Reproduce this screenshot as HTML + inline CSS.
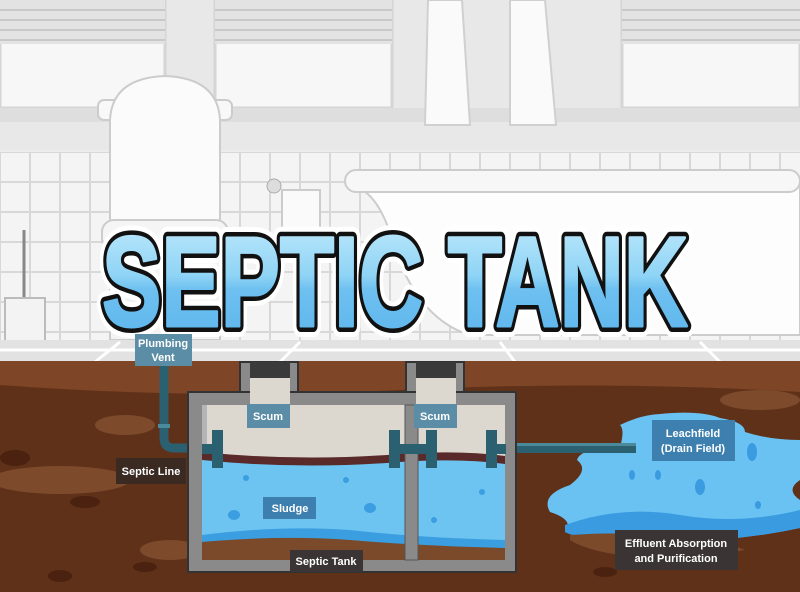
<!DOCTYPE html>
<html><head><meta charset="utf-8"><style>html,body{margin:0;padding:0;background:#eee}svg{display:block}text{font-family:"Liberation Sans",sans-serif;font-weight:bold}</style></head><body>
<svg width="800" height="592" viewBox="0 0 800 592" xmlns="http://www.w3.org/2000/svg">
<defs>
<linearGradient id="tg" x1="0" y1="0" x2="0" y2="1"><stop offset="0" stop-color="#c6ecfc"/><stop offset="0.45" stop-color="#8fd4f6"/><stop offset="0.55" stop-color="#6ec0f0"/><stop offset="1" stop-color="#5ab4ec"/></linearGradient>
<pattern id="tiles" width="30" height="30" patternUnits="userSpaceOnUse" x="0" y="152"><rect width="30" height="30" fill="#f4f4f4"/><rect x="0" y="0" width="30" height="30" fill="none" stroke="#d8d8d8" stroke-width="2"/></pattern>
</defs>
<rect width="800" height="592" fill="#ececec"/>
<rect x="0" y="0" width="800" height="150" fill="#e8e8e8"/>
<g fill="#f7f7f7" stroke="#d5d5d5" stroke-width="3">
<rect x="0" y="0" width="165" height="108"/><rect x="215" y="0" width="177" height="108"/><rect x="622" y="0" width="178" height="108"/>
</g>
<g fill="#e3e3e3"><rect x="0" y="0" width="165" height="44"/><rect x="215" y="0" width="177" height="44"/><rect x="622" y="0" width="178" height="44"/></g>
<g stroke="#c8c8c8" stroke-width="2">
<line x1="0" y1="10" x2="165" y2="10"/><line x1="0" y1="20" x2="165" y2="20"/><line x1="0" y1="30" x2="165" y2="30"/><line x1="0" y1="40" x2="165" y2="40"/>
<line x1="215" y1="10" x2="392" y2="10"/><line x1="215" y1="20" x2="392" y2="20"/><line x1="215" y1="30" x2="392" y2="30"/><line x1="215" y1="40" x2="392" y2="40"/>
<line x1="622" y1="10" x2="800" y2="10"/><line x1="622" y1="20" x2="800" y2="20"/><line x1="622" y1="30" x2="800" y2="30"/><line x1="622" y1="40" x2="800" y2="40"/>
</g>
<rect x="0" y="108" width="800" height="14" fill="#dedede"/>
<path d="M428 0 L462 0 L470 125 L425 125 Z" fill="#fafafa" stroke="#d0d0d0" stroke-width="2"/>
<path d="M510 0 L545 0 L556 125 L510 125 Z" fill="#fafafa" stroke="#d0d0d0" stroke-width="2"/>
<rect x="0" y="152" width="800" height="190" fill="url(#tiles)"/>
<rect x="98" y="100" width="134" height="20" rx="6" fill="#f8f8f8" stroke="#ccc" stroke-width="2"/>
<path d="M110 120 Q112 78 165 76 Q218 78 220 120 L220 225 L110 225 Z" fill="#fbfbfb" stroke="#ccc" stroke-width="2"/>
<rect x="102" y="220" width="126" height="30" rx="12" fill="#f5f5f5" stroke="#ccc" stroke-width="2"/>
<rect x="110" y="250" width="110" height="90" fill="#f3f3f3" stroke="#ccc" stroke-width="2"/>
<line x1="24" y1="230" x2="24" y2="300" stroke="#888" stroke-width="3"/>
<rect x="5" y="298" width="40" height="60" fill="#f3f3f3" stroke="#bbb" stroke-width="2"/>
<rect x="282" y="190" width="38" height="40" fill="#fafafa" stroke="#ccc" stroke-width="2"/>
<circle cx="274" cy="186" r="7" fill="#ddd" stroke="#aaa"/>
<path d="M350 185 Q380 190 395 250 Q420 320 470 335 L800 335 L800 180 Z" fill="#fdfdfd" stroke="#ccc" stroke-width="2"/>
<rect x="345" y="170" width="455" height="22" rx="11" fill="#f7f7f7" stroke="#ccc" stroke-width="2"/>
<rect x="0" y="340" width="800" height="25" fill="#e2e2e2"/>
<g stroke="#fff" stroke-width="3"><line x1="0" y1="350" x2="800" y2="350"/><line x1="120" y1="342" x2="95" y2="362"/><line x1="300" y1="342" x2="280" y2="362"/><line x1="500" y1="342" x2="515" y2="362"/><line x1="700" y1="342" x2="720" y2="362"/></g>
<rect x="0" y="361" width="800" height="231" fill="#5f3119"/>
<path d="M0 361 L800 361 L800 392 Q600 380 400 390 Q200 400 0 385 Z" fill="#7e4526"/>
<g fill="#7d4a2c"><ellipse cx="60" cy="480" rx="70" ry="14"/><ellipse cx="125" cy="425" rx="30" ry="10"/><ellipse cx="170" cy="550" rx="30" ry="10"/><ellipse cx="760" cy="400" rx="40" ry="10"/></g>
<g fill="#4a220f"><ellipse cx="15" cy="458" rx="15" ry="8"/><ellipse cx="85" cy="502" rx="15" ry="6"/><ellipse cx="60" cy="576" rx="12" ry="6"/><ellipse cx="145" cy="567" rx="12" ry="5"/><ellipse cx="605" cy="572" rx="12" ry="5"/></g>
<path d="M660 414 Q700 410 720 418 Q745 422 745 432 Q770 440 800 440 L800 480 Q785 490 800 500 L800 528 Q720 545 640 540 Q580 540 565 532 Q575 520 550 512 Q540 495 570 485 Q590 470 577 460 Q580 448 620 447 Q625 430 620 425 Q640 415 660 414 Z" fill="#6ac2f2"/>
<path d="M565 525 Q620 505 680 515 Q740 525 800 510 L800 528 Q720 545 640 540 Q580 540 565 532 Z" fill="#3a9be0"/>
<path d="M570 535 Q640 530 720 540 L745 550 Q690 560 620 555 Q585 550 570 540 Z" fill="#7a4a2a"/>
<g fill="#3a9be0"><ellipse cx="632" cy="475" rx="3" ry="5"/><ellipse cx="658" cy="475" rx="3" ry="5"/><ellipse cx="700" cy="487" rx="5" ry="8"/><ellipse cx="752" cy="452" rx="5" ry="9"/><ellipse cx="758" cy="505" rx="3" ry="4"/></g>
<rect x="514" y="443" width="122" height="10" fill="#2b6070"/>
<rect x="514" y="443" width="122" height="3" fill="#4a8a9a"/>
<path d="M164 362 L164 438 Q164 448 174 448 L215 448" fill="none" stroke="#2b6070" stroke-width="9"/>
<rect x="158" y="424" width="12" height="4" fill="#4a8a9a"/>
<rect x="240" y="362" width="58" height="36" fill="#8a8a8a" stroke="#333" stroke-width="2"/>
<rect x="406" y="362" width="58" height="36" fill="#8a8a8a" stroke="#333" stroke-width="2"/>
<rect x="188" y="392" width="328" height="180" fill="#8a8a8a" stroke="#333" stroke-width="2"/>
<rect x="250" y="362" width="40" height="16" fill="#3a3a3a"/><rect x="250" y="378" width="40" height="30" fill="#dcd8cf"/>
<rect x="416" y="362" width="40" height="16" fill="#3a3a3a"/><rect x="416" y="378" width="40" height="30" fill="#dcd8cf"/>
<rect x="202" y="405" width="303" height="155" fill="#dcd8cf"/>
<rect x="202" y="405" width="5" height="155" fill="#b5b5b5"/>
<path d="M202 452 Q300 462 400 454 Q460 450 505 456 L505 560 L202 560 Z" fill="#5a2a2a"/>
<path d="M202 460 Q300 470 400 462 Q460 458 505 464 L505 560 L202 560 Z" fill="#6ec4f0"/>
<path d="M202 535 Q280 525 350 530 Q420 538 505 540 L505 560 L202 560 Z" fill="#3a9ee0"/>
<path d="M202 542 Q280 535 350 540 Q420 546 505 548 L505 560 L202 560 Z" fill="#7a4a2a"/>
<g fill="#3a9ee0"><ellipse cx="246" cy="478" rx="3" ry="3"/><ellipse cx="346" cy="480" rx="3" ry="3"/><ellipse cx="234" cy="515" rx="6" ry="5"/><ellipse cx="370" cy="508" rx="6" ry="5"/><ellipse cx="482" cy="492" rx="3" ry="3"/><ellipse cx="434" cy="520" rx="3" ry="3"/></g>
<rect x="405" y="405" width="13" height="155" fill="#8a8a8a" stroke="#555" stroke-width="1"/>
<g fill="#2b6070"><rect x="202" y="444" width="20" height="10"/><rect x="212" y="430" width="11" height="38"/>
<rect x="389" y="430" width="11" height="38"/><rect x="396" y="444" width="40" height="10"/><rect x="426" y="430" width="11" height="38"/>
<rect x="486" y="430" width="11" height="38"/><rect x="490" y="444" width="16" height="10"/></g>
<g font-size="128" font-family="Liberation Sans" font-weight="bold">
<text x="102" y="326" textLength="586" lengthAdjust="spacingAndGlyphs" fill="none" stroke="#fff" stroke-width="22" stroke-linejoin="round">SEPTIC TANK</text>
<text x="102" y="326" textLength="586" lengthAdjust="spacingAndGlyphs" fill="none" stroke="#111" stroke-width="12" stroke-linejoin="round">SEPTIC TANK</text>
<text x="102" y="326" textLength="586" lengthAdjust="spacingAndGlyphs" fill="url(#tg)" stroke="url(#tg)" stroke-width="3" stroke-linejoin="round">SEPTIC TANK</text>
</g>
<g font-size="11" fill="#fff" text-anchor="middle">
<rect x="135" y="334" width="57" height="32" fill="#5b8ea6"/><text x="163" y="347">Plumbing</text><text x="163" y="361">Vent</text>
<rect x="247" y="404" width="43" height="24" fill="#5b8ea6"/><text x="268" y="420">Scum</text>
<rect x="414" y="404" width="43" height="24" fill="#5b8ea6"/><text x="435" y="420">Scum</text>
<rect x="116" y="458" width="70" height="26" fill="#3a2a22"/><text x="151" y="475">Septic Line</text>
<rect x="263" y="497" width="53" height="22" fill="#3d80b0"/><text x="290" y="512">Sludge</text>
<rect x="290" y="550" width="73" height="22" fill="#3a3434"/><text x="326" y="565">Septic Tank</text>
<rect x="652" y="420" width="83" height="41" fill="#3d80b0"/><text x="693" y="437">Leachfield</text><text x="693" y="452">(Drain Field)</text>
<rect x="615" y="530" width="123" height="40" fill="#3a3434"/><text x="676" y="547">Effluent Absorption</text><text x="676" y="562">and Purification</text>
</g>
</svg>
</body></html>
